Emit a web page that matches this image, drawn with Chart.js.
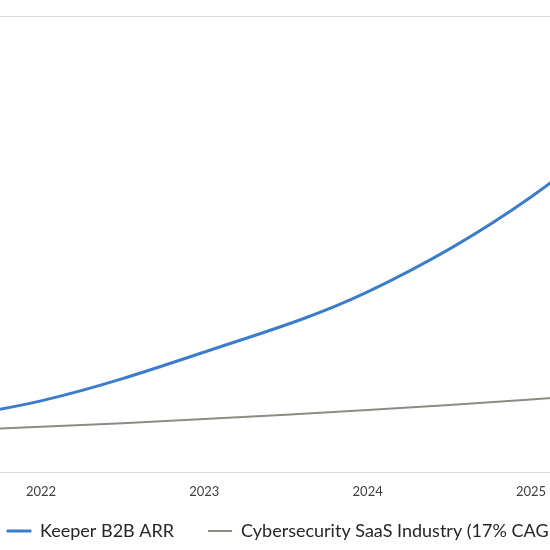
<!DOCTYPE html>
<html>
<head>
<meta charset="utf-8">
<script src="https://cdn.jsdelivr.net/npm/chart.js@4.4.1/dist/chart.umd.min.js"></script>
<style>
  html, body { margin: 0; padding: 0; background: #fff; }
  .graphContainer { width: 550px; height: 550px; overflow: hidden; position: relative; }
  .graphInner { width: 700px; height: 550px; }
</style>
</head>
<body>
<div class="graphContainer">
  <div class="graphInner">
    <canvas id="myChart" width="700" height="550"></canvas>
  </div>
</div>
<script>
// years shown on the axis, and the data points per year
const years = [2021, 2022, 2023, 2024, 2025, 2026];
const tickYears = [2022, 2023, 2024, 2025];
const keeperArr = [9.5, 15.6, 26.3, 39.5, 60.3, 90];
const industry = [8.5, 9.9, 11.6, 13.6, 15.9, 18.6];
const seriesLabels = ["Keeper B2B ARR", "Cybersecurity SaaS Industry (17% CAGR)"];

const toPoints = (vals) => years.map((y, i) => ({ x: y, y: vals[i] }));

const ctx = document.getElementById("myChart").getContext("2d");
new Chart(ctx, {
  type: "line",
  data: {
    datasets: [
      {
        label: seriesLabels[0],
        data: toPoints(keeperArr),
        borderColor: "#3B7CCB",
        backgroundColor: "#3B7CCB",
        borderWidth: 3,
        pointRadius: 0,
        tension: 0.35
      },
      {
        label: seriesLabels[1],
        data: toPoints(industry),
        borderColor: "#8C8C84",
        backgroundColor: "#8C8C84",
        borderWidth: 2,
        pointRadius: 0,
        tension: 0.35
      }
    ]
  },
  options: {
    responsive: false,
    animation: false,
    devicePixelRatio: 1,
    layout: { padding: { top: 16, left: 0, right: 0, bottom: 0 } },
    scales: {
      x: {
        type: "linear",
        min: 2021.749,
        max: 2026.035,
        grid: { display: false, drawTicks: false },
        border: { display: true, color: "#D9D9D9", width: 1 },
        afterBuildTicks: (scale) => {
          scale.ticks = tickYears.map(v => ({ value: v }));
        },
        afterFit: (scale) => { scale.height = 43; },
        ticks: {
          padding: 12,
          maxRotation: 0,
          color: "#404040",
          font: { family: "Lato", size: 13 },
          callback: (v) => String(v)
        }
      },
      y: {
        min: 0,
        max: 100,
        ticks: { display: false, stepSize: 100 },
        grid: { color: "#D9D9D9", lineWidth: 1, drawTicks: false },
        border: { display: false }
      }
    },
    plugins: {
      tooltip: { enabled: false },
      legend: {
        position: "bottom",
        align: "start",
        labels: {
          padding: 7,
          boxWidth: 24,
          boxHeight: 2,
          color: "#262626",
          font: { family: "Lato", size: 18 },
          generateLabels: (chart) => {
            const items = Chart.defaults.plugins.legend.labels.generateLabels(chart);
            items[0].text += "\u2003\u2002\u2005";
            items[0].lineWidth = 1;
            items[1].lineWidth = 0;
            return items;
          }
        }
      }
    }
  }
});
</script>
</body>
</html>
